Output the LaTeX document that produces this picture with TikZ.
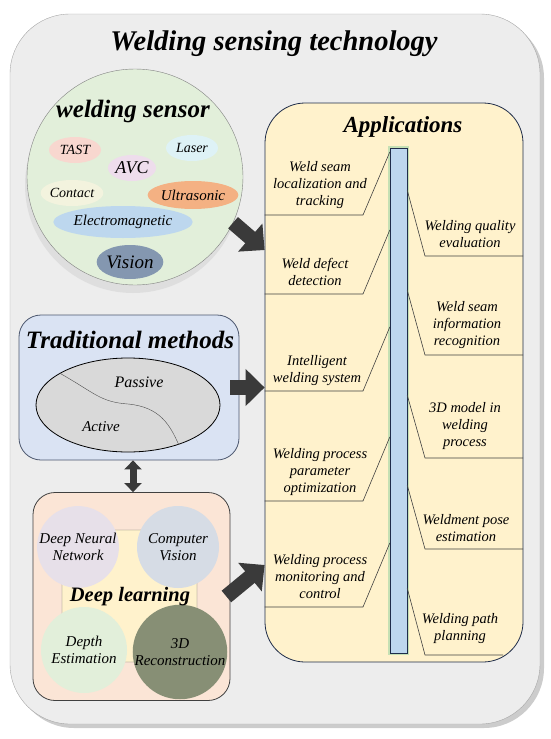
\documentclass[tikz,border=0pt]{standalone}
\usepackage{fontspec}
\setmainfont{Liberation Serif}
\usetikzlibrary{positioning,arrows.meta,shadows,shapes.geometric}

\definecolor{framegray}{HTML}{EDEDED}
\definecolor{sensorgreen}{HTML}{E2EFDA}
\definecolor{tradblue}{HTML}{DAE3F3}
\definecolor{dlpeach}{HTML}{FBE5D6}
\definecolor{appyellow}{HTML}{FFF2CC}
\definecolor{barblue}{HTML}{BDD7EE}
\definecolor{glowgreen}{HTML}{C5E0B4}
\definecolor{navyline}{HTML}{1F2D4A}
\definecolor{arrowgray}{HTML}{3A3A3A}
\definecolor{tastpink}{HTML}{F8D7CF}
\definecolor{laserblue}{HTML}{DEF2F6}
\definecolor{avclilac}{HTML}{EEDDEC}
\definecolor{contactcream}{HTML}{F3F3DE}
\definecolor{ultraorange}{HTML}{F4B183}
\definecolor{visionslate}{HTML}{8497B0}
\definecolor{dnnlilac}{HTML}{E7E0E9}
\definecolor{cvgray}{HTML}{D6DCE5}
\definecolor{reconolive}{HTML}{878F75}

\begin{document}
\begin{tikzpicture}[x=1pt,y=-1pt,
    bigtitle/.style={font=\fontsize{#1}{#1}\selectfont\bfseries\itshape, inner sep=0pt},
    applabel/.style={font=\fontsize{14.5}{17}\selectfont\itshape, align=center, inner sep=0pt},
    leader/.style={draw=black!75, line width=0.6pt},
    bigarrow/.style={draw=arrowgray, line width=15pt, -{Triangle[width=36pt,length=19pt]}},
    dblarrow/.style={draw=arrowgray, line width=7pt, {Triangle[width=17pt,length=9pt]}-{Triangle[width=17pt,length=9pt]}}]

    \useasboundingbox (0,0) rectangle (550,739);

    %Frame and title
    \node[draw=black!35, fill=framegray, rounded corners=60pt, minimum width=530pt, minimum height=710pt,
        drop shadow={shadow xshift=4pt, shadow yshift=-4pt, fill=black!40}] (frame) at (275,369) {};
    \node[bigtitle=28.5] (title) at (274,44) {Welding sensing technology};

    %Welding sensor
    \node[circle, draw=black!50, fill=sensorgreen, minimum size=216pt, inner sep=0pt,
        drop shadow={shadow xshift=-2pt, shadow yshift=-8pt, fill=black!18}] (sensor) at (135,177) {};
    \node[bigtitle=25] (sensortitle) at (133,111) {welding sensor};
    \foreach \n/\x/\y/\w/\h/\c/\s/\txt in {
        tast/75/150/52/26/tastpink/14/TAST,
        laser/192/148/52/26/laserblue/14/Laser,
        avc/132/168/48/26/avclilac/18/AVC,
        contact/72/193/62/26/contactcream/14/Contact,
        ultra/193/195/78/28/ultraorange/15/Ultrasonic,
        emag/123/222/124/32/barblue/15/Electromagnetic,
        vision/130/262/66/34/visionslate/19/Vision}
    \node[ellipse, fill=\c, minimum width=\w pt, minimum height=\h pt, inner sep=0pt,
        font=\fontsize{\s}{\s}\selectfont\itshape] (\n) at (\x,\y) {\txt};

    %Traditional methods
    \node[draw=navyline!80, thick, fill=tradblue, rounded corners=22pt, minimum width=220pt, minimum height=145pt] (trad) at (129,387.5) {};
    \node[bigtitle=25] (tradtitle) at (130,340) {Traditional methods};
    \node[ellipse, draw, thick, fill=black!15, minimum width=184pt, minimum height=94pt] (split) at (128,405) {};
    \draw[black!70] (split.155) .. controls (95,393) and (100,402) .. (128,404) .. controls (160,407) and (170,425) .. (split.-38);
    \node[font=\fontsize{16}{16}\selectfont\itshape] (passive) at (139,382) {Passive};
    \node[font=\fontsize{15}{15}\selectfont\itshape] (active) at (101,427) {Active};

    %Deep learning
    \node[draw=black!75, thick, fill=dlpeach, rounded corners=22pt, minimum width=197pt, minimum height=208pt] (dl) at (131.5,596.5) {};
    \node[draw=black!60, fill=appyellow, rounded corners=35pt, minimum width=135pt, minimum height=132pt] (dlcore) at (129.5,596) {};
    \foreach \n/\x/\y/\r/\c/\txt in {
        dnn/78/547/40/dnnlilac/{Deep Neural\\Network},
        cv/178/547/41/cvgray/{Computer\\Vision},
        depth/84/650/43/sensorgreen/{Depth\\Estimation},
        recon/180/652/41/reconolive/{3D\\Reconstruction}}
    \node[circle, fill=\c, minimum size=2*\r pt, inner sep=0pt, align=center,
        font=\fontsize{15}{17}\selectfont\itshape] (\n) at (\x,\y) {\txt};
    \node[bigtitle=20.5] (dltitle) at (130,597) {Deep learning};

    %Applications
    \node[draw=navyline, thick, fill=appyellow, rounded corners=40pt, minimum width=258pt, minimum height=559pt] (apps) at (394,382.5) {};
    \node[bigtitle=23] (appstitle) at (403,127) {Applications};
    \node[draw=navyline, fill=barblue, minimum width=17pt, minimum height=505pt, inner sep=0pt,
        preaction={draw=glowgreen, line width=4pt}] (bar) at (398.5,400.5) {};

    %Left side applications
    \foreach \n/\x/\y/\yl/\yb/\txt in {
        la/320/185/215/152/{Weld seam\\localization and\\tracking},
        lb/315/272/294/230/{Weld defect\\detection},
        lc/317/371/391/327/{Intelligent\\welding system},
        ld/320/472/501/437/{Welding process\\parameter\\optimization},
        le/320/577/607/543/{Welding process\\monitoring and\\control}}
    {
        \node[applabel] (\n) at (\x,\y) {\txt};
        \draw[leader] (apps.west |- 0,\yl) -- (363,\yl) -- (bar.west |- 0,\yb);
    }

    %Right side applications
    \foreach \n/\x/\y/\ya/\yl/\xe/\txt in {
        ra/470/234/190/256/523/{Welding quality\\evaluation},
        rb/467/325/290/355/523/{Weld seam\\information\\recognition},
        rc/465/426/395/458/523/{3D model in\\welding\\process},
        rd/466/528/485/549/523/{Weldment pose\\estimation},
        re/460/629/588/655/503/{Welding path\\planning}}
    {
        \node[applabel] (\n) at (\x,\y) {\txt};
        \draw[leader] (bar.east |- 0,\ya) -- (425,\yl) -- (\xe,\yl);
    }

    %Arrows
    \draw[bigarrow] (sensor.-25) -- (apps.west |- 0,250);
    \draw[bigarrow] ([xshift=-9pt]trad.east) -- (apps.west |- trad.east);
    \draw[bigarrow] ([xshift=-4pt]dl.east) -- (apps.west |- 0,565);
    \draw[dblarrow] ([xshift=4pt]trad.south) -- ([xshift=1.5pt]dl.north);

\end{tikzpicture}
\end{document}
